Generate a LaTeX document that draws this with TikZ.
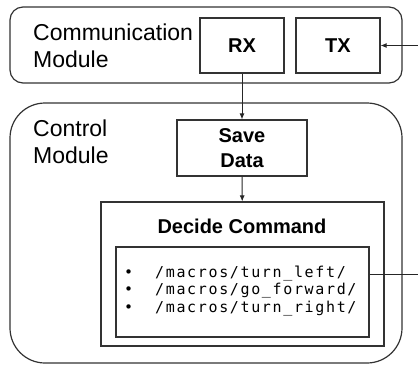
\documentclass[tikz,border=0pt]{standalone}
\usepackage{fontspec}
\setmainfont{Liberation Sans}
\newfontfamily\codefont[LetterSpace=11]{DejaVu Sans Mono}
\usetikzlibrary{arrows.meta}

\begin{document}
\begin{tikzpicture}[x=1pt,y=-1pt,
  module/.style={draw=black!80, line width=1.2pt, rectangle, inner sep=0pt},
  block/.style={draw=black!80, line width=1.2pt, rectangle, inner sep=0pt,
    font=\fontsize{20}{25}\selectfont\bfseries, align=center},
  modlabel/.style={anchor=north west, inner sep=0pt, align=left,
    font=\fontsize{23}{27.5}\selectfont},
  link/.style={draw=black!85, line width=0.9pt, -{Latex[length=6pt,width=5pt]}},
  wire/.style={draw=black!85, line width=0.9pt},
]
\useasboundingbox (0,0) rectangle (418,365);

% containers
\node[module, rounded corners=13, minimum width=392, minimum height=76] (comm) at (206,45) {};
\node[module, rounded corners=35, minimum width=392, minimum height=260] (ctrl) at (206,233) {};
\node[modlabel] (commlabel) at (33,23.2) {Communication\\Module};
\node[modlabel] (ctrllabel) at (33,119.2) {Control\\Module};

% communication blocks
\node[block, minimum width=84, minimum height=55] (rx) at (242,45.5) {RX};
\node[block, minimum width=84, minimum height=55] (tx) at (338,45.5) {TX};

% control blocks
\node[block, minimum width=130, minimum height=56] (save) at (242,148) {Save\\Data};
\node[module, minimum width=283, minimum height=144] (decide) at (242.5,274) {};
\node[anchor=base, inner sep=0pt, font=\fontsize{20}{25}\selectfont\bfseries] (decidelabel) at (242,233) {Decide Command};
\node[module, minimum width=253, minimum height=90] (list) at (242.5,292) {};
\node[anchor=north west, inner sep=0pt, align=left,
  font=\codefont\fontsize{15}{17.5}\selectfont] (items) at (124,265.6)
  {\makebox[31pt][l]{•}/macros/turn\_left/\\
   \makebox[31pt][l]{•}/macros/go\_forward/\\
   \makebox[31pt][l]{•}/macros/turn\_right/};

% connectors
\coordinate (txin) at (418,45.5);
\coordinate (listout) at (418,274);
\draw[link] (rx) -- (save);
\draw[link] (save) -- (decide);
\draw[link] (txin) -- (tx.east);
\draw[wire] (list.east |- listout) -- (listout);
\end{tikzpicture}
\end{document}
